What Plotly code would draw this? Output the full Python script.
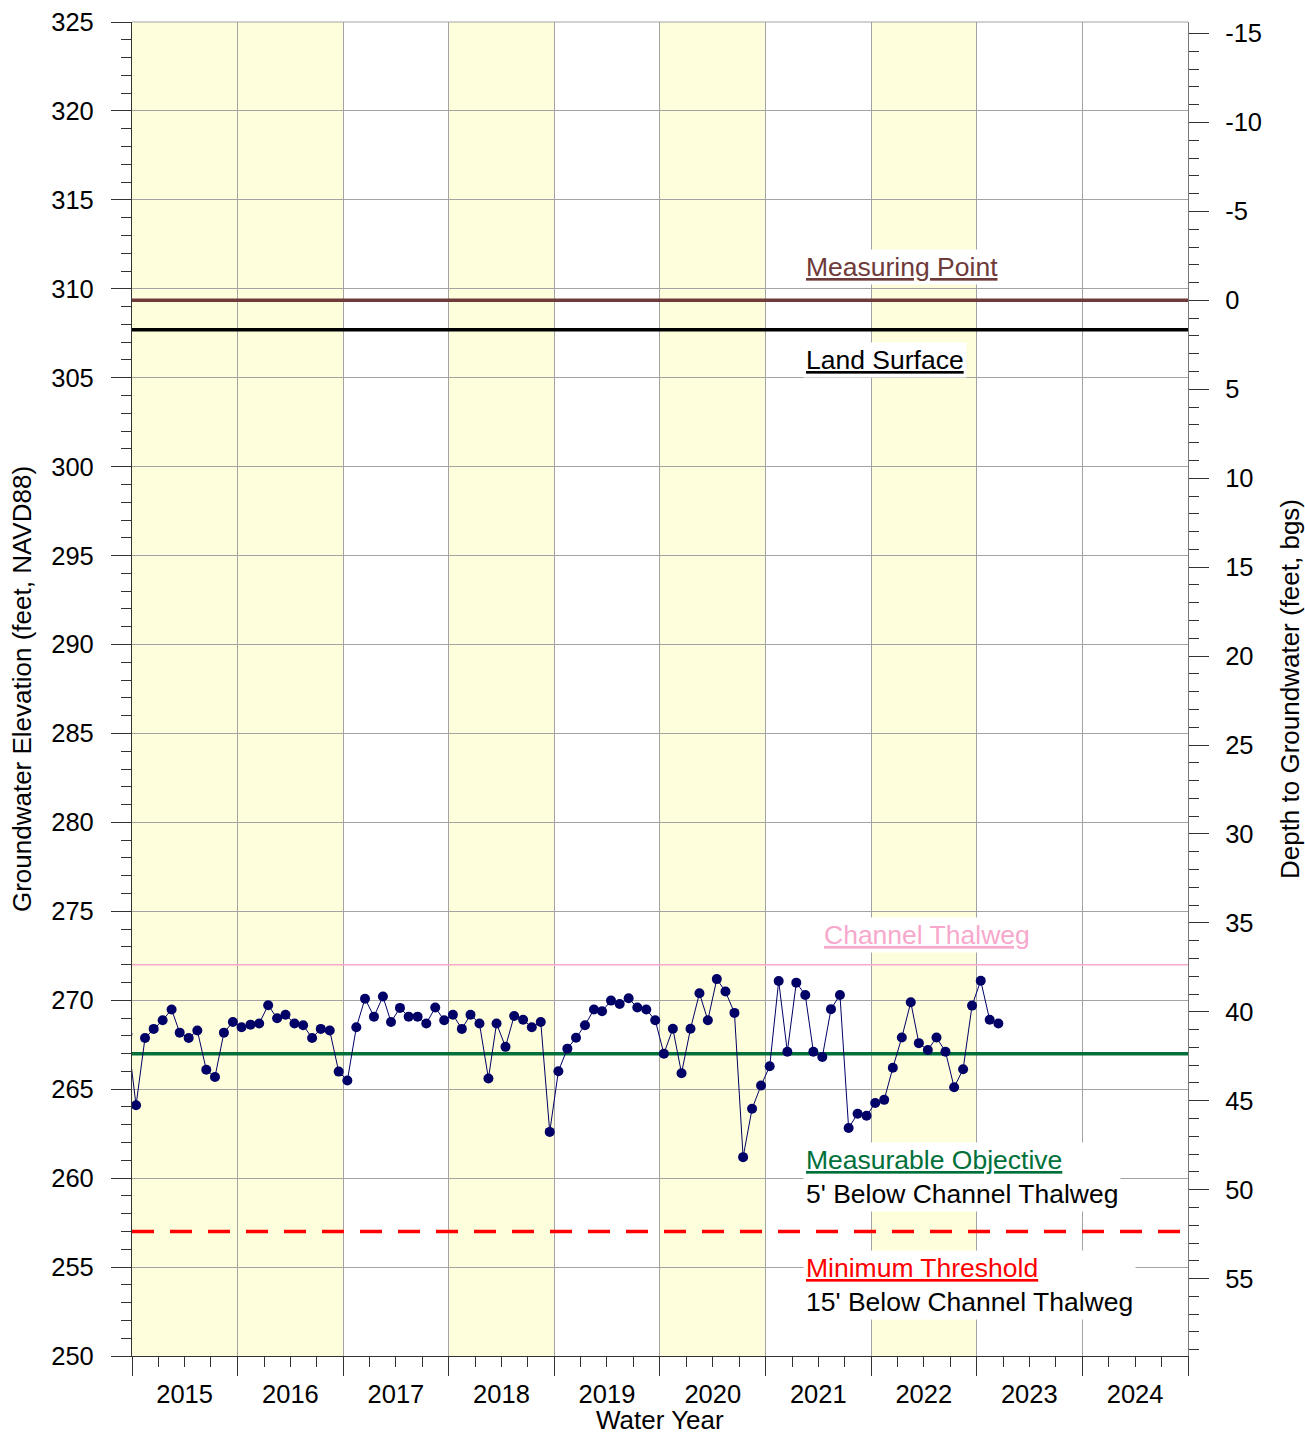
import pandas as pd
import plotly.graph_objects as go

# ---------------- data ----------------
# monthly groundwater elevation (feet, NAVD88), mid-month, Sep 2014 .. Dec 2022
gw_elev = [268.1,
    264.10, 267.88, 268.39, 268.88, 269.48, 268.18, 267.88, 268.30, 266.09, 265.69, 268.18, 268.78,
    268.48, 268.63, 268.69, 269.72, 268.99, 269.19, 268.69, 268.60, 267.88, 268.39, 268.30, 265.99,
    265.49, 268.48, 270.09, 269.08, 270.21, 268.78, 269.57, 269.08, 269.08, 268.69, 269.59, 268.88,
    269.19, 268.39, 269.19, 268.69, 265.60, 268.69, 267.38, 269.12, 268.90, 268.48, 268.78, 262.60,
    266.01, 267.28, 267.89, 268.60, 269.48, 269.38, 269.98, 269.79, 270.11, 269.59, 269.48, 268.88,
    267.00, 268.40, 265.90, 268.40, 270.39, 268.88, 271.19, 270.49, 269.29, 261.18, 263.90, 265.21,
    266.29, 271.08, 267.11, 270.99, 270.30, 267.11, 266.81, 269.50, 270.30, 262.82, 263.62, 263.51,
    264.22, 264.40, 266.21, 267.91, 269.89, 267.59, 267.20, 267.91, 267.11, 265.11, 266.12, 269.70,
    271.10, 268.90, 268.69]
dates = [d + pd.Timedelta(days=14) for d in pd.date_range("2014-09-01", periods=len(gw_elev), freq="MS")]

water_years = [2015, 2016, 2017, 2018, 2019, 2020, 2021, 2022, 2023, 2024]
shaded_years = [2015, 2016, 2018, 2020, 2022]

measuring_point = 309.35
land_surface = 307.7
channel_thalweg = 272.0
measurable_objective = 267.0
minimum_threshold = 257.0

elev_range = [250, 325]
elev_ticks = list(range(250, 326, 5))
depth_ticks = list(range(-15, 60, 5))

# ---------------- styling ----------------
FONT = "Arial, Liberation Sans, sans-serif"
GRID = "#A3A3A3"
AX = "#333333"
YELLOW = "#FFFEDC"
BROWN = "#6E3A3A"
PINK = "#F7A8CC"
GREEN = "#00703A"
RED = "#FF0000"
NAVY = "#000066"

x_start = pd.Timestamp(f"{water_years[0]-1}-10-01")
x_end = pd.Timestamp(f"{water_years[-1]}-10-01")

fig = go.Figure()

def hline(level, color, width, dash="solid", yaxis="y"):
    fig.add_trace(go.Scatter(x=[x_start, x_end], y=[level, level],
                             mode="lines", line=dict(color=color, width=width, dash=dash),
                             xaxis="x", yaxis=yaxis, hoverinfo="skip", showlegend=False))

hline(channel_thalweg, PINK, 1.5)
hline(measurable_objective, GREEN, 3.5)
hline(minimum_threshold, RED, 3.5, dash="22px,16px")
hline(land_surface, "#000000", 3.5)
# measuring point is depth 0 on the right axis
hline(0.0, BROWN, 3.5, yaxis="y2")

# data on overlaid x2 so it is drawn on top
fig.add_trace(go.Scatter(x=dates, y=gw_elev, mode="lines+markers",
                         line=dict(color=NAVY, width=1),
                         marker=dict(color=NAVY, size=10),
                         xaxis="x2", yaxis="y", showlegend=False))

for wy in shaded_years:
    fig.add_shape(type="rect", xref="x", yref="paper",
                  x0=pd.Timestamp(f"{wy-1}-10-01"), x1=pd.Timestamp(f"{wy}-10-01"),
                  y0=0, y1=1, fillcolor=YELLOW, line=dict(width=0), layer="below")
# top frame line
fig.add_shape(type="line", xref="paper", yref="paper", x0=0, x1=1, y0=1, y1=1,
              line=dict(color=GRID, width=1.2), layer="above")

tickfont = dict(family=FONT, size=25.5, color="#000000")
titlefont = dict(family=FONT, size=26, color="#000000")

fig.update_layout(
    width=1305, height=1435,
    margin=dict(l=132, r=117, t=22, b=79),
    paper_bgcolor="white", plot_bgcolor="white",
    font=dict(family=FONT, size=25, color="#000"),
    xaxis=dict(type="date", range=[x_start, x_end], tickmode="linear", automargin=False,
               tick0=x_start, dtick="M12", ticks="outside", ticklen=19, tickwidth=1.2,
               tickcolor=AX, showticklabels=False, showgrid=True, gridcolor=GRID,
               gridwidth=1, zeroline=False, showline=True, linecolor=AX, linewidth=1.2,
               minor=dict(dtick="M3", tick0=x_start, ticks="outside", ticklen=10,
                          tickcolor=AX, tickwidth=1.2, showgrid=False)),
    xaxis2=dict(type="date", range=[x_start, x_end], overlaying="x", side="bottom",
                anchor="y", tickmode="array", automargin=False, ticklabeloverflow="allow",
                tickvals=[pd.Timestamp(f"{wy}-04-01") for wy in water_years],
                ticktext=[str(wy) for wy in water_years],
                ticks="outside", ticklen=15, tickcolor="rgba(0,0,0,0)",
                tickfont=tickfont, showgrid=False, zeroline=False, showline=False),
    yaxis=dict(range=elev_range, tickmode="array", tickvals=elev_ticks,
               ticktext=[str(v) for v in elev_ticks], automargin=False,
               ticklabeloverflow="allow",
               ticks="outside", ticklen=20, tickwidth=1.2, tickcolor=AX,
               ticklabelstandoff=12,
               tickfont=tickfont, showgrid=True, gridcolor=GRID, gridwidth=1,
               zeroline=False, showline=True, linecolor=AX, linewidth=1.2,
               minor=dict(dtick=1, tick0=250, ticks="outside", ticklen=10, tickcolor=AX,
                          tickwidth=1.2, showgrid=False),
               title=dict(text="Groundwater Elevation (feet, NAVD88)", font=titlefont,
                          standoff=12)),
    yaxis2=dict(range=[measuring_point - elev_range[0], measuring_point - elev_range[1]],
                overlaying="y", side="right", anchor="x", tickmode="array",
                tickvals=depth_ticks, ticktext=[str(v) for v in depth_ticks], automargin=False,
                ticklabeloverflow="allow",
                ticks="outside", ticklen=20, tickwidth=1.2, tickcolor=AX,
                ticklabelstandoff=11,
                tickfont=tickfont, showgrid=False, zeroline=False, showline=True,
                linecolor="#777777", linewidth=1.2,
                minor=dict(dtick=1, tick0=0, ticks="outside", ticklen=10, tickcolor=AX,
                           tickwidth=1.2, showgrid=False),
                title=dict(text="Depth to Groundwater (feet, bgs)", font=titlefont,
                           standoff=20)),
)

fig.add_annotation(text="Water Year", x=0.5, xref="paper", y=0, yref="paper",
                   xanchor="center", yanchor="middle", yshift=-64, showarrow=False,
                   font=titlefont)

labx = 0.635
ann_font = dict(family=FONT, size=26.5)
def label(text, level, anchor, shift, x=labx, yref="y"):
    fig.add_annotation(text=text, x=x, xref="paper", y=level, yref=yref,
                       xanchor="left", yanchor=anchor, yshift=shift, align="left",
                       showarrow=False, bgcolor="white", borderpad=2, font=ann_font)

label(f"<span style='color:{BROWN}'><u>Measuring Point</u></span>", measuring_point, "bottom", 15)
label("<span style='color:#000'><u>Land Surface</u></span>", land_surface, "top", -12)
label(f"<span style='color:{PINK}'><u>Channel Thalweg</u></span>", channel_thalweg, "bottom", 12, x=0.652)
label(f"<span style='color:{GREEN}'><u>Measurable Objective</u></span><br>"
      f"<span style='color:#000'>5' Below Channel Thalweg</span>", minimum_threshold, "bottom", 19)
label(f"<span style='color:{RED}'><u>Minimum Threshold</u></span><br>"
      f"<span style='color:#000'>15' Below Channel Thalweg</span>", minimum_threshold, "top", -19)

# remove the browser's default body margin so the 1305x1435 figure fills the window exactly
fig.write_html("out.html", config={"displayModeBar": False},
               post_script="document.body.style.margin='0';")
